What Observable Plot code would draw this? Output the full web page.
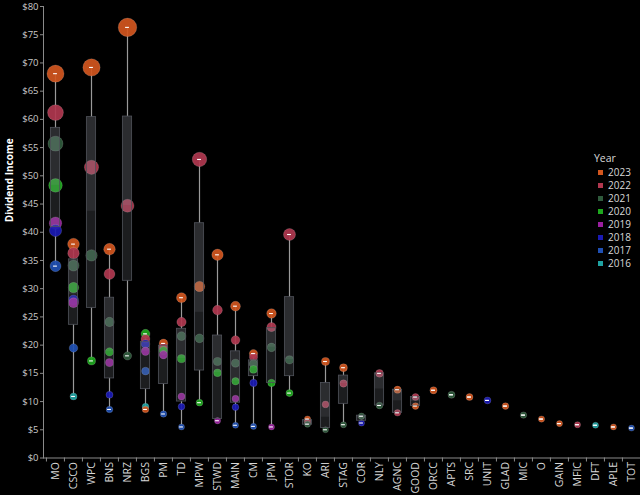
<!DOCTYPE html>
<html><head><meta charset="utf-8">
<script src="https://cdn.jsdelivr.net/npm/d3@7"></script>
<script src="https://cdn.jsdelivr.net/npm/@observablehq/plot@0.6"></script>
<style>
html,body{margin:0;padding:0;background:#000;}
#wrap{position:relative;width:640px;height:495px;background:#000;overflow:hidden;font-family:"Open Sans",sans-serif;}
#wrap svg{position:absolute;left:0;top:0;}
#legend{position:absolute;left:593px;top:152px;color:#d8d8d8;font-size:10px;line-height:13px;}
#legend .t{font-size:10.5px;margin-left:1px;margin-bottom:1px;}
#legend .row{display:flex;align-items:center;height:13px;}
#legend .sw{width:5px;height:5px;margin-left:5px;margin-right:5px;}
</style></head><body><div id="wrap"></div>
<script>
const tickers = ["MO","CSCO","WPC","BNS","NRZ","BGS","PM","TD","MPW","STWD","MAIN","CM","JPM","STOR","KO","ARI","STAG","COR","NLY","AGNC","GOOD","ORCC","APTS","SRC","UNIT","GLAD","MIC","O","GAIN","MFIC","DFT","APLE","TOT"];
const years = ["2023","2022","2021","2020","2019","2018","2017","2016"];
const yearColors = ["#d2561e","#b0374f","#2f5a3c","#1ea81e","#9a1fa0","#1a1ab4","#1f50b4","#1fa3a3"];
//                MO    CSCO  WPC   BNS   NRZ   BGS   PM    TD    MPW   STWD  MAIN  CM    JPM   STOR  KO    ARI   STAG  COR   NLY   AGNC  GOOD  ORCC  APTS  SRC   UNIT  GLAD  MIC   O     GAIN  MFIC  DFT   APLE  TOT
const y2023 = [68.1, 37.9, 69.2, 37.0, 76.3,  8.6, 20.3, 28.4, 30.4, 36.0, 26.9, 18.5, 25.6, null,  6.9, 17.1, 16.0, null, null, 12.1,  9.2, 12.0, null, 10.8, null,  9.2, null,  6.9,  6.1, null, null,  5.5, null];
const y2022 = [61.2, 36.3, 51.5, 32.6, 44.7, 21.1, 19.6, 24.1, 52.9, 26.2, 20.9, 17.9, 23.2, 39.6,  6.4,  9.5, 13.2, null, 15.0,  8.0, 10.8, null, null, null, null, null, null, null, null,  5.9, null, null, null];
const y2021 = [55.7, 34.1, 35.9, 24.1, 18.1, null, null, 21.6, 21.2, 17.1, 16.8, 16.7, 19.6, 17.4,  6.0,  5.0,  5.9,  7.4,  9.3, null, null, null, 11.2, null, null, null,  7.6, null, null, null, null, null, null];
const y2020 = [48.3, 30.2, 17.2, 18.8, null, 22.0, 19.0, 17.6,  9.8, 15.1, 13.6, 15.7, 13.3, 11.5, null, null, null, null, null, null, null, null, null, null, null, null, null, null, null, null, null, null, null];
const y2019 = [41.6, 27.5, null, 16.9, null, 18.9, 18.3, 10.9, null,  6.6, 10.5, null,  5.5, null, null, null, null, null, null, null, null, null, null, null, null, null, null, null, null, null, null, null, null];
const y2018 = [40.3, 28.0, null, 11.2, null, 20.2, null,  9.1, null, null,  9.0, 13.3, null, null, null, null, null,  6.2, null, null, null, null, null, null, 10.2, null, null, null, null, null, null, null, null];
const y2017 = [34.0, 19.5, null,  8.6, null, 15.4,  7.8,  5.5, null, null,  5.8,  5.6, null, null, null, null, null, null, null, null, null, null, null, null, null, null, null, null, null, null, null, null,  5.3];
const y2016 = [null, 10.9, null, null, null,  9.1, null, null, null, null, null, null, null, null, null, null, null, null, null, null, null, null, null, null, null, null, null, null, null, null,  5.8, null, null];
// box plot quartiles (lower hinge, median, upper hinge)
const boxQ1  = [40.9, 23.6, 26.6, 14.1, 31.4, 12.2, 13.1, 10.0, 15.5,  6.9,  9.8, 14.5, 13.3, 14.5,  5.9,  5.3,  9.6,  6.6,  9.3,  8.0,  9.2, null, null, null, null, null, null, null, null, null, null, null, null];
const boxMed = [48.3, 28.9, 43.7, 18.8, 44.7, 18.9, 18.7, 17.6, 25.8, 15.1, 13.6, 16.2, 19.6, 17.4,  6.3,  7.2, 13.2,  6.9, 12.2, 10.1, 10.0, null, null, null, null, null, null, null, null, null, null, null, null];
const boxQ3  = [58.5, 35.2, 60.4, 28.4, 60.5, 20.6, 19.9, 22.9, 41.6, 21.7, 18.9, 17.3, 23.0, 28.5,  6.7, 13.3, 14.6,  7.5, 15.0, 12.1, 10.8, null, null, null, null, null, null, null, null, null, null, null, null];
const yTicks = [0,5,10,15,20,25,30,35,40,45,50,55,60,65,70,75,80];

const series = {"2023":y2023,"2022":y2022,"2021":y2021,"2020":y2020,"2019":y2019,"2018":y2018,"2017":y2017,"2016":y2016};
const rows = [];
for (const yr of [...years].reverse()) {
  series[yr].forEach((v,i)=>{ if (v != null) rows.push({ticker:tickers[i], year:yr, value:v}); });
}
const stats = tickers.map((t,i)=>{
  const vals = rows.filter(r=>r.ticker===t).map(r=>r.value);
  return {ticker:t, min:d3.min(vals), max:d3.max(vals), q1:boxQ1[i], med:boxMed[i], q3:boxQ3[i]};
});
const boxed = stats.filter(s=>s.q1 != null);

const xRange = [43, 642];
const step = (xRange[1]-xRange[0])/tickers.length;
const boxInset = (step-9.4)/2;
const capInset = step/2-2;

const chart = Plot.plot({
  width: 640, height: 495,
  marginLeft: 43, marginRight: 0, marginTop: 6, marginBottom: 37.5,
  style: {background:"#000", color:"#c8c8c8", fontFamily:"'Open Sans', sans-serif"},
  x: {type:"band", domain:tickers, range:xRange, padding:0},
  y: {domain:[0,80]},
  r: {type:"linear", domain:[0,80], range:[2.55,9.6]},
  color: {domain:years, range:yearColors},
  marks: [
    Plot.frame({anchor:"left", stroke:"#8a8a8a"}),
    Plot.ruleY([0], {stroke:"#8a8a8a"}),
    Plot.axisY({ticks:yTicks, tickFormat:d=>"$"+d, tickSize:3, tickPadding:2, fontSize:9.5, label:null, stroke:"#8a8a8a"}),
    Plot.axisX({tickSize:0, tickRotate:-90, tickPadding:4, fontSize:10.5, label:null, fill:"#d8d8d8"}),
    Plot.axisX({tickSize:4, tickFormat:()=>"", dx:-step/2, label:null, stroke:"#8a8a8a"}),
    Plot.ruleX(boxed, {x:"ticker", y1:"q3", y2:"max", stroke:"#9a9a9a", strokeWidth:1.2}),
    Plot.ruleX(boxed, {x:"ticker", y1:"min", y2:"q1", stroke:"#9a9a9a", strokeWidth:1.2}),
    Plot.dot(rows, {x:"ticker", y:"value", r:"value", fill:"year", fillOpacity:0.92, stroke:"#ffffff", strokeOpacity:0.18, strokeWidth:0.8}),
    Plot.barY(boxed, {x:"ticker", y1:"med", y2:"q3", fill:"#8e929c", fillOpacity:0.3, insetLeft:boxInset, insetRight:boxInset}),
    Plot.barY(boxed, {x:"ticker", y1:"q1", y2:"med", fill:"#8e929c", fillOpacity:0.2, insetLeft:boxInset, insetRight:boxInset}),
    Plot.barY(boxed, {x:"ticker", y1:"q1", y2:"q3", fill:"none", stroke:"#50535b", strokeWidth:0.8, insetLeft:boxInset, insetRight:boxInset}),
    Plot.tickY(stats, {x:"ticker", y:"max", stroke:"#ffffff", strokeWidth:1.1, insetLeft:capInset, insetRight:capInset}),
    Plot.tickY(stats, {x:"ticker", y:"min", stroke:"#ffffff", strokeWidth:1.1, insetLeft:capInset, insetRight:capInset}),
    Plot.text(["Dividend Income"], {frameAnchor:"left", dx:-34, dy:-10, rotate:-90, fill:"#ffffff", fontWeight:"bold", fontSize:10})
  ]
});
const wrap = document.getElementById("wrap");
wrap.appendChild(chart);
const lg = document.createElement("div");
lg.id = "legend";
lg.innerHTML = '<div class="t">Year</div>' + years.map((y,i)=>`<div class="row"><span class="sw" style="background:${yearColors[i]}"></span><span>${y}</span></div>`).join("");
wrap.appendChild(lg);
</script></body></html>
